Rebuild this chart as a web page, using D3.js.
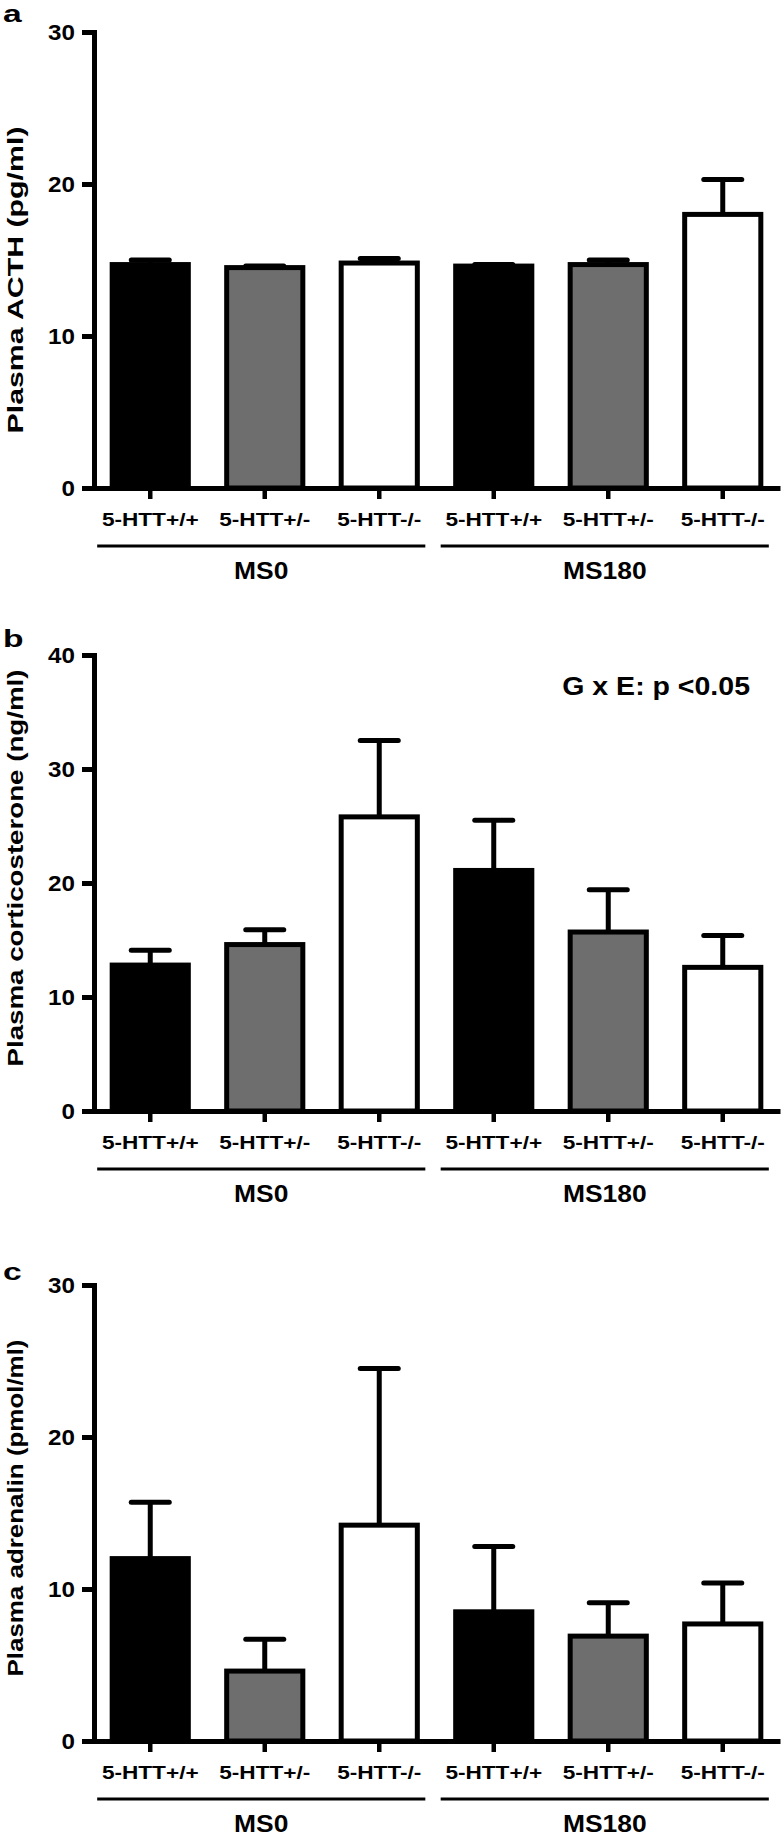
<!doctype html>
<html>
<head>
<meta charset="utf-8">
<style>
  body { margin: 0; background: #fff; }
  svg { display: block; font-family: "Liberation Sans", Arial, sans-serif; font-weight: bold; }
</style>
<script src="https://d3js.org/d3.v7.min.js"></script>
</head>
<body>
<svg width="783" height="1839"></svg>
<script>
// ---- data ----
var genotypes = ["5-HTT+/+", "5-HTT+/-", "5-HTT-/-"];
var conditions = ["MS0", "MS180"];

var acthMean = [14.7, 14.5, 14.8, 14.6, 14.7, 18.0];
var acthSem  = [0.3, 0.1, 0.3, 0.1, 0.3, 2.3];

var corticoMean = [12.8, 14.6, 25.8, 21.1, 15.7, 12.6];
var corticoSem  = [1.3, 1.3, 6.7, 4.4, 3.7, 2.8];

var adrenMean = [12.0, 4.6, 14.2, 8.5, 6.9, 7.7];
var adrenSem  = [3.7, 2.1, 10.3, 4.3, 2.2, 2.7];

var ticks30 = [0, 10, 20, 30];
var ticks40 = [0, 10, 20, 30, 40];

var fills = ["#000000", "#6e6e6e", "#ffffff"];

var svg = d3.select("svg");
var axisX = 94, plotH = 456;

// stretch text along its reading direction (the figure's font runs wide)
function stretch(sel, k) {
    sel.each(function() {
        var w = this.getComputedTextLength();
        d3.select(this).attr("textLength", w * k).attr("lengthAdjust", "spacingAndGlyphs");
    });
}

var panels = [
    {letter: "a", title: "Plasma ACTH (pg/ml)", mean: acthMean, sem: acthSem, max: 30, ticks: ticks30,
     top: 32, letterDy: -10, titleMid: 248, titleLen: 307},
    {letter: "b", title: "Plasma corticosterone (ng/ml)", mean: corticoMean, sem: corticoSem, max: 40, ticks: ticks40,
     top: 655, letterDy: -8, titleMid: 213, titleLen: 397, note: "G x E: p <0.05"},
    {letter: "c", title: "Plasma adrenalin (pmol/ml)", mean: adrenMean, sem: adrenSem, max: 30, ticks: ticks30,
     top: 1285, letterDy: -5, titleMid: 223, titleLen: 337}
];

var cats = d3.range(conditions.length * genotypes.length);

var x = d3.scaleBand()
    .domain(cats)
    .range([93, 780])
    .paddingInner(0.335)
    .paddingOuter(0.1675);

panels.forEach(function(p) {
    var zero = p.top + plotH;
    var y = d3.scaleLinear().domain([0, p.max]).range([zero, p.top]);

    // panel letter
    svg.append("text")
       .attr("x", 3)
       .attr("y", p.top + p.letterDy)
       .attr("font-size", "24px")
       .text(p.letter)
       .call(stretch, 1.4);

    // y title
    svg.append("text")
       .attr("transform", "translate(23," + (p.top + p.titleMid) + ") rotate(-90)")
       .attr("text-anchor", "middle")
       .attr("font-size", "22px")
       .attr("textLength", p.titleLen)
       .attr("lengthAdjust", "spacingAndGlyphs")
       .text(p.title);

    // bars
    var g = svg.append("g");
    g.selectAll(".bar")
     .data(p.mean)
     .enter().append("rect")
     .attr("class", "bar")
     .attr("x", function(d, i) { return x(i); })
     .attr("y", function(d) { return y(d); })
     .attr("width", x.bandwidth())
     .attr("height", function(d) { return zero - y(d); })
     .attr("fill", function(d, i) { return fills[i % genotypes.length]; })
     .attr("stroke", "#000")
     .attr("stroke-width", 5);

    // error bars (upper only)
    var eb = g.selectAll(".err")
     .data(p.mean)
     .enter().append("g")
     .attr("class", "err")
     .attr("stroke", "#000")
     .attr("stroke-width", 5)
     .attr("stroke-linecap", "round");
    eb.append("line")
      .attr("x1", function(d, i) { return x(i) + x.bandwidth() / 2; })
      .attr("x2", function(d, i) { return x(i) + x.bandwidth() / 2; })
      .attr("y1", function(d) { return y(d); })
      .attr("y2", function(d, i) { return y(d + p.sem[i]); })
      .attr("stroke-linecap", "butt");
    eb.append("line")
      .attr("x1", function(d, i) { return x(i) + x.bandwidth() / 2 - 19; })
      .attr("x2", function(d, i) { return x(i) + x.bandwidth() / 2 + 19; })
      .attr("y1", function(d, i) { return y(d + p.sem[i]); })
      .attr("y2", function(d, i) { return y(d + p.sem[i]); });

    // x axis
    var xa = svg.append("g")
       .attr("transform", "translate(0," + zero + ")")
       .call(d3.axisBottom(x)
           .tickSize(11)
           .tickSizeOuter(0)
           .tickPadding(13.5)
           .tickFormat(function(i) { return genotypes[i % genotypes.length]; }));
    xa.select(".domain").attr("stroke-width", 5);
    xa.selectAll(".tick line").attr("stroke-width", 4.5);
    xa.selectAll(".tick text")
      .attr("fill", "#000")
      .attr("font-size", "19px")
      .attr("font-family", null)
      .call(stretch, 1.19);

    // y axis
    var ya = svg.append("g")
       .attr("transform", "translate(" + axisX + ",0)")
       .call(d3.axisLeft(y)
           .tickValues(p.ticks)
           .tickSize(12)
           .tickSizeOuter(0)
           .tickPadding(7));
    ya.select(".domain").attr("stroke-width", 5).attr("stroke-linecap", "square");
    ya.selectAll(".tick line").attr("stroke-width", 5);
    ya.selectAll(".tick text")
      .attr("fill", "#000")
      .attr("font-size", "22px")
      .attr("font-family", null)
      .call(stretch, 1.1);

    // condition groups
    conditions.forEach(function(c, j) {
        var first = j * genotypes.length, last = first + genotypes.length - 1;
        var x0 = x(first) - 15, x1 = x(last) + x.bandwidth() + 8;
        svg.append("line")
           .attr("x1", x0).attr("x2", x1)
           .attr("y1", zero + 58).attr("y2", zero + 58)
           .attr("stroke", "#000")
           .attr("stroke-width", 3);
        svg.append("text")
           .attr("x", (x0 + x1) / 2)
           .attr("y", zero + 91)
           .attr("text-anchor", "middle")
           .attr("font-size", "24px")
           .text(c)
           .call(stretch, 1.1);
    });

    if (p.note) {
        svg.append("text")
           .attr("x", 750)
           .attr("y", p.top + 40)
           .attr("text-anchor", "end")
           .attr("font-size", "25px")
           .text(p.note)
           .call(stretch, 1.14);
    }
});
</script>
</body>
</html>
